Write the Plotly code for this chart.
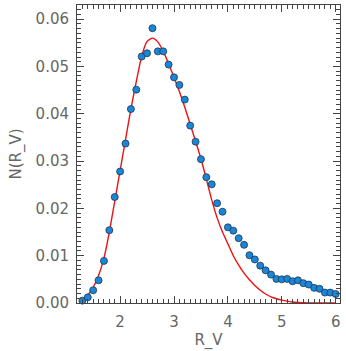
import plotly.graph_objects as go

# measured distribution (dots)
rv = [1.3, 1.4, 1.5, 1.6, 1.7, 1.8, 1.9, 2.0, 2.1, 2.2, 2.3, 2.4, 2.5, 2.6, 2.7, 2.8,
      2.9, 3.0, 3.1, 3.2, 3.3, 3.4, 3.5, 3.6, 3.7, 3.8, 3.9, 4.0, 4.1, 4.2, 4.3, 4.4,
      4.5, 4.6, 4.7, 4.8, 4.9, 5.0, 5.1, 5.2, 5.3, 5.4, 5.5, 5.6, 5.7, 5.8, 5.9, 6.0]
n_rv = [0.0005, 0.0012, 0.0027, 0.0048, 0.0089, 0.0154, 0.0224, 0.0278, 0.0337, 0.0410,
        0.0451, 0.0521, 0.0528, 0.0581, 0.0532, 0.0532, 0.0504, 0.0477, 0.0461, 0.0430,
        0.0375, 0.0341, 0.0304, 0.0266, 0.0251, 0.0211, 0.0193, 0.0160, 0.0153, 0.0137,
        0.0123, 0.0101, 0.0092, 0.0079, 0.0069, 0.0060, 0.0051, 0.0050, 0.0051, 0.0046,
        0.0048, 0.0042, 0.0039, 0.0032, 0.0030, 0.0022, 0.0022, 0.0019]

# fitted curve (red line)
fit_x = rv
fit_y = [0.0002, 0.0016, 0.0033, 0.0058, 0.0095, 0.0150, 0.0215, 0.0280, 0.0345, 0.0410,
         0.0468, 0.0522, 0.0553, 0.0560, 0.0552, 0.0532, 0.0506, 0.0477, 0.0447, 0.0414,
         0.0378, 0.0342, 0.0305, 0.0262, 0.0218, 0.0180, 0.0150, 0.0125, 0.0100, 0.0080,
         0.0063, 0.0049, 0.0037, 0.0027, 0.0019, 0.0013, 0.0009, 0.0006, 0.0004, 0.0002,
         0.0001, 0.00005, 0.0, 0.0, 0.0, 0.0, 0.0, 0.0]

fig = go.Figure()

fig.add_trace(go.Scatter(
    x=fit_x, y=fit_y, mode='lines',
    line=dict(color='#ee1111', width=1.4, shape='spline', smoothing=0.6),
    showlegend=False))

fig.add_trace(go.Scatter(
    x=rv, y=n_rv, mode='markers', cliponaxis=False,
    marker=dict(size=7, color='#1a86d8', line=dict(color='#1d3550', width=0.8)),
    showlegend=False))

txt_font = dict(family='DejaVu Sans', size=15, color='#666666')

axis_common = dict(
    showline=True, linecolor='#444444', linewidth=1, mirror='allticks',
    ticks='inside', ticklen=7, tickcolor='#444444', tickwidth=1,
    showgrid=False, zeroline=False, automargin=False,
    tickfont=txt_font,
)

fig.update_xaxes(
    range=[1.2, 6.08], tickvals=[2, 3, 4, 5, 6], ticktext=['2', '3', '4', '5', '6'],
    minor=dict(dtick=0.1, tick0=0, ticks='inside', ticklen=4, tickcolor='#444444'),
    title=dict(text='R_V', font=txt_font, standoff=4),
    ticklabelstandoff=5,
    **axis_common)

fig.update_yaxes(
    range=[0, 0.063], tickvals=[0, 0.01, 0.02, 0.03, 0.04, 0.05, 0.06],
    ticktext=['0.00', '0.01', '0.02', '0.03', '0.04', '0.05', '0.06'],
    minor=dict(dtick=0.001, tick0=0, ticks='inside', ticklen=4, tickcolor='#444444'),
    title=dict(text='N(R_V)', font=txt_font, standoff=10),
    ticklabelstandoff=4,
    **axis_common)

fig.update_layout(
    width=346, height=351,
    margin=dict(l=77, r=6, t=5, b=48),
    plot_bgcolor='white', paper_bgcolor='white',
)

fig.write_html("out.html", config={'displayModeBar': False},
               post_script="document.body.style.margin='0';")
